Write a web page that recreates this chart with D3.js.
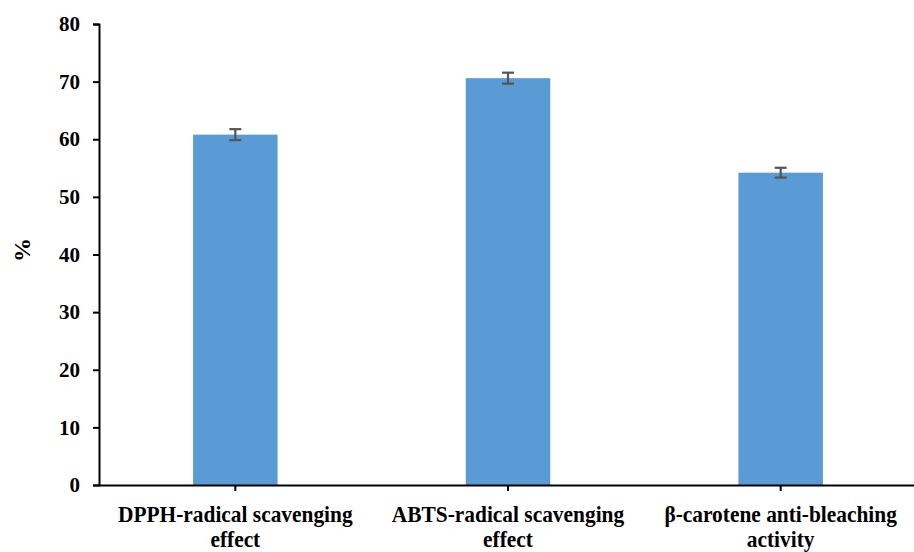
<!DOCTYPE html>
<html><head><meta charset="utf-8">
<script src="https://cdn.jsdelivr.net/npm/d3@7"></script>
<style>body{margin:0;background:#fff}svg{display:block}text{font-family:"Liberation Serif","Times New Roman",serif;font-weight:bold}</style>
</head><body>
<script>
const categories = [["DPPH-radical scavenging","effect"],["ABTS-radical scavenging","effect"],["β-carotene anti-bleaching","activity"]];
const values = [60.8, 70.6, 54.2];
const errors = [0.95, 0.95, 0.85];
const yTicks = [0,10,20,30,40,50,60,70,80];
const yLabel = "%";

const W=914,H=552;
const m={left:99,top:24,right:-3,bottom:67};
const svg=d3.select("body").append("svg").attr("width",W).attr("height",H);
const x=d3.scaleBand().domain(d3.range(categories.length)).range([m.left,W-m.right]).paddingInner(0.69).paddingOuter(0.345);
const y=d3.scaleLinear().domain([0,80]).range([H-m.bottom,m.top]);

svg.append("g").selectAll("rect").data(values).join("rect")
 .attr("x",(d,i)=>x(i)).attr("width",x.bandwidth())
 .attr("y",d=>y(d)).attr("height",d=>y(0)-y(d)).attr("fill","#5B9BD5");

const eb=svg.append("g").attr("stroke","#555").attr("stroke-width",2.2);
values.forEach((v,i)=>{
 const cx=x(i)+x.bandwidth()/2;
 eb.append("line").attr("x1",cx).attr("x2",cx).attr("y1",y(v+errors[i])).attr("y2",y(v-errors[i]));
 eb.append("line").attr("x1",cx-6).attr("x2",cx+6).attr("y1",y(v+errors[i])).attr("y2",y(v+errors[i]));
 eb.append("line").attr("x1",cx-6).attr("x2",cx+6).attr("y1",y(v-errors[i])).attr("y2",y(v-errors[i]));
});

const ya=svg.append("g").attr("transform",`translate(${m.left},0)`)
 .call(d3.axisLeft(y).tickValues(yTicks).tickSize(6).tickPadding(13).tickFormat(d3.format("d")));
ya.select(".domain").attr("stroke","#000").attr("stroke-width",2);
ya.selectAll(".tick line").attr("stroke","#000").attr("stroke-width",2);
ya.selectAll(".tick text").attr("font-size",21).attr("fill","#000").attr("font-family","Liberation Serif").attr("font-weight","bold");

const xa=svg.append("g").attr("transform",`translate(0,${y(0)})`)
 .call(d3.axisBottom(x).tickSize(6).tickSizeOuter(0).tickFormat(""));
xa.select(".domain").attr("stroke","#000").attr("stroke-width",2);
xa.selectAll(".tick line").attr("stroke","#000").attr("stroke-width",2);

const lab=svg.append("g");
const squeeze=0.93;
categories.forEach((c,i)=>{
 const cx=x(i)+x.bandwidth()/2;
 [0,1].forEach(k=>{
  const t=lab.append("text").attr("text-anchor","middle").attr("font-size",23).attr("fill","#000")
   .attr("x",cx).attr("y",522+k*25).text(c[k]);
  const L=t.node().getComputedTextLength();
  t.attr("textLength",L*squeeze).attr("lengthAdjust","spacingAndGlyphs");
 });
});

svg.append("text").attr("transform","translate(30,250) rotate(-90)").attr("text-anchor","middle")
 .attr("font-size",24).attr("fill","#000").text(yLabel);
</script>
</body></html>
